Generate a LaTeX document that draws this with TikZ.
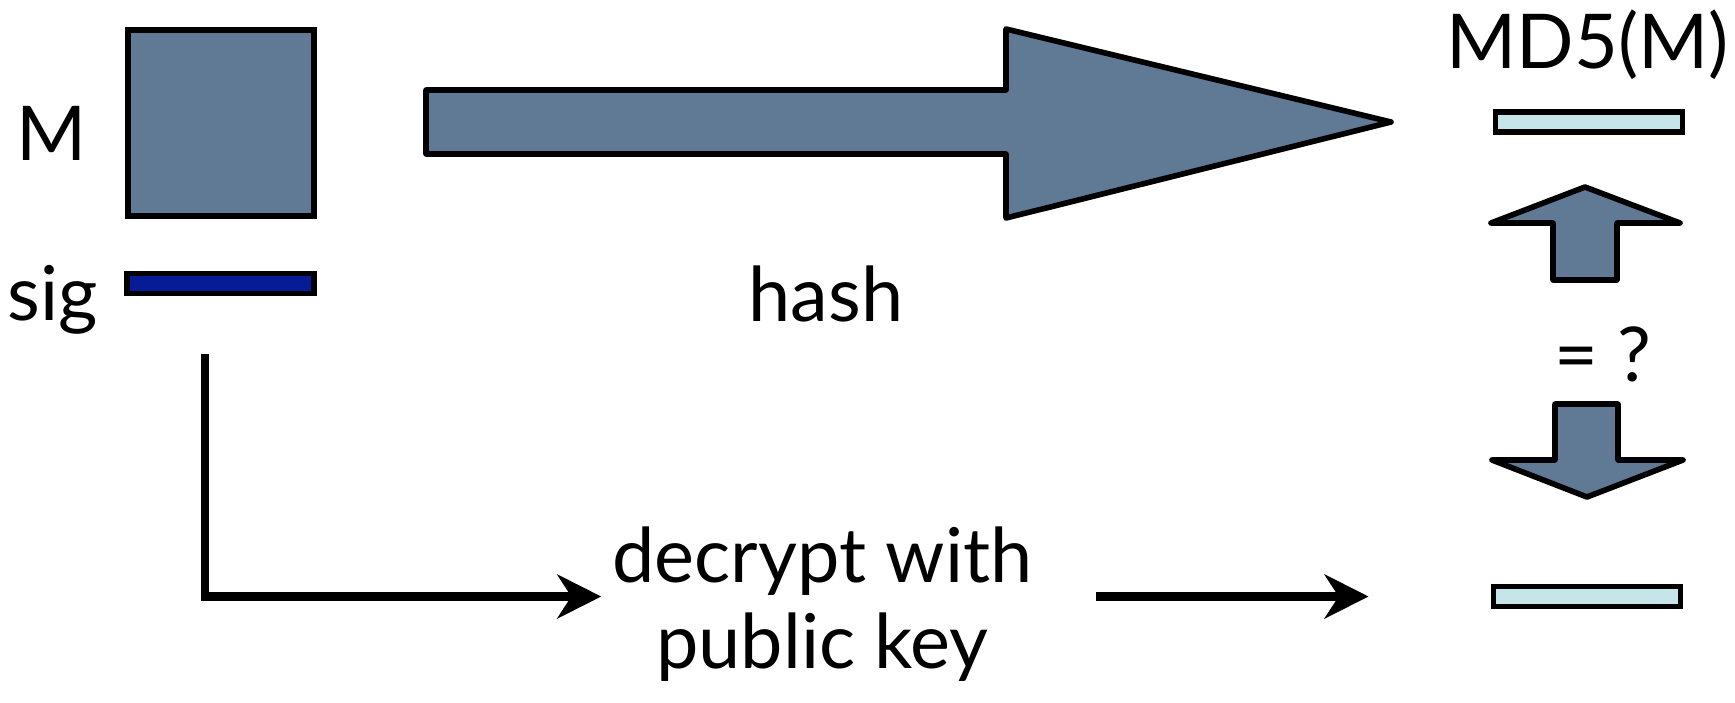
\documentclass[tikz,border=0pt]{standalone}
\usepackage{fontspec}
\setmainfont{Lato}
\usepackage{xcolor}
\usetikzlibrary{arrows.meta}
\definecolor{slate}{RGB}{96,122,150}
\definecolor{sigblue}{RGB}{6,28,150}
\definecolor{pale}{RGB}{198,229,232}

\begin{document}
\begin{tikzpicture}[x=0.01cm,y=-0.01cm]
  \tikzset{lbl/.style={font=\fontsize{21.5}{24.2}\selectfont, inner sep=0pt},
           bar/.style={draw, line width=1.6pt, minimum width=1.87cm, minimum height=0.2cm, inner sep=0pt},
           fat/.style={draw, line width=1.6pt, fill=slate, line join=round},
           conn/.style={line width=2.5pt, -{Stealth[length=12.5pt,width=12.5pt,inset=4pt]}}}
  \useasboundingbox (0,0) rectangle (1735,702);

  \node[draw, line width=1.6pt, fill=slate, minimum size=1.86cm, inner sep=0pt] (msg) at (221,123) {};
  \node[bar, fill=sigblue] (sig) at (220.5,283.5) {};
  \node[lbl] (Ml) at (52,133.5) {M};
  \node[lbl, anchor=base] (sigl) at (53,320) {sig};

  \draw[fat] (426,90) -- (1006,90) -- (1006,29) -- (1391,122) -- (1006,218) -- (1006,154) -- (426,154) -- cycle;
  \node[lbl, anchor=base] (hashl) at (826,321) {hash};

  \node[lbl, anchor=base] (md5) at (1587.5,68) {MD5(M)};
  \node[bar, fill=pale] (top) at (1589,122) {};
  \draw[fat] (1553,280) -- (1553,223) -- (1491,223) -- (1585,187) -- (1680,223) -- (1617,223) -- (1617,280) -- cycle;
  \node[lbl, anchor=base] (eq) at (1603,381) {= ?};
  \draw[fat] (1555,404) -- (1618,404) -- (1618,460) -- (1683,460) -- (1587,497) -- (1492,460) -- (1555,460) -- cycle;
  \node[bar, fill=pale] (bot) at (1587,596.5) {};

  \node[lbl, align=center, anchor=base] (decrypt) at (822.5,668) {decrypt with\\public key};

  \draw[conn, shorten >=3pt] ([xshift=-0.155cm,yshift=-0.58cm]sig.south) |- (decrypt.west |- bot);
  \draw[conn, shorten <=0.63cm, shorten >=1.22cm] (decrypt.east |- bot) -- (bot.west);
\end{tikzpicture}
\end{document}
